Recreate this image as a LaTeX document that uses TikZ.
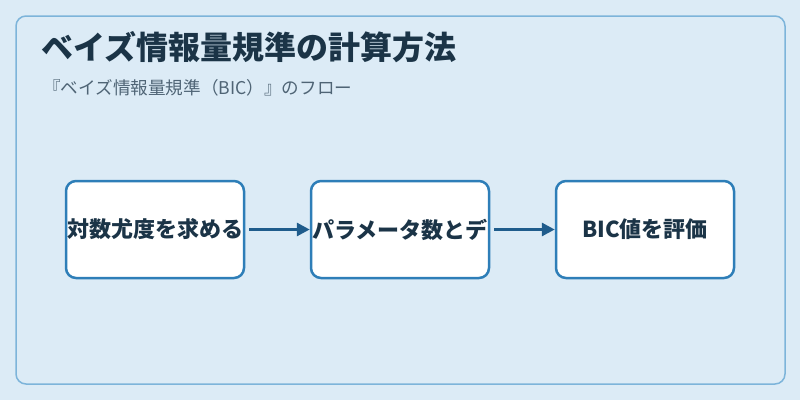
\documentclass[tikz,border=0pt]{standalone}
\usepackage{fontspec}
\setmainfont{Noto Sans CJK JP}
\usepackage{tikz}
\usetikzlibrary{positioning, arrows.meta}
\definecolor{bgblue}{HTML}{DCEBF6}
\definecolor{frameblue}{HTML}{7DB4DA}
\definecolor{boxblue}{HTML}{2E7EB8}
\definecolor{arrowblue}{HTML}{1F5C8C}
\definecolor{textdark}{HTML}{1B3447}
\definecolor{textgrey}{HTML}{4F6475}

\begin{document}
\begin{tikzpicture}[
    x=1pt, y=-1pt,
    frame/.style={draw=frameblue, line width=1.5pt, rounded corners=10pt, fill=bgblue},
    title/.style={anchor=west, inner sep=0pt, text=textdark, font=\fontsize{32}{38}\selectfont\bfseries},
    subtitle/.style={anchor=west, inner sep=0pt, text=textgrey, font=\fontsize{17.6}{21}\selectfont},
    stepbox/.style={draw=boxblue, line width=2.5pt, rectangle, rounded corners=10pt, fill=white,
        minimum width=178pt, minimum height=97pt, inner sep=0pt, text=textdark,
        font=\fontsize{22}{26}\selectfont\bfseries},
    flow/.style={draw=arrowblue, line width=3pt, -{Triangle[length=13pt, width=13pt]}, shorten <=4pt}
]

% --- HINTERGRUND ---
\fill[bgblue] (0,0) rectangle (800,400);
\useasboundingbox (0,0) rectangle (800,400);
\draw[frame] (16,16) rectangle (785,384);

% --- TITEL ---
\node[title] (head) at (41,47) {ベイズ情報量規準の計算方法};
\node[subtitle] (sub) at (43,88) {『ベイズ情報量規準（BIC）』のフロー};

% --- KNOTEN ---
\node[stepbox] (loglik) at (155,229.5) {対数尤度を求める};
\node[stepbox, right=64.5pt of loglik] (count) {パラメータ数とデ};
\node[stepbox, right=64.5pt of count] (bic) {BIC値を評価};

% --- KANTEN ---
\draw[flow] (loglik.east) -- (count.west);
\draw[flow] (count.east) -- (bic.west);

\end{tikzpicture}
\end{document}
